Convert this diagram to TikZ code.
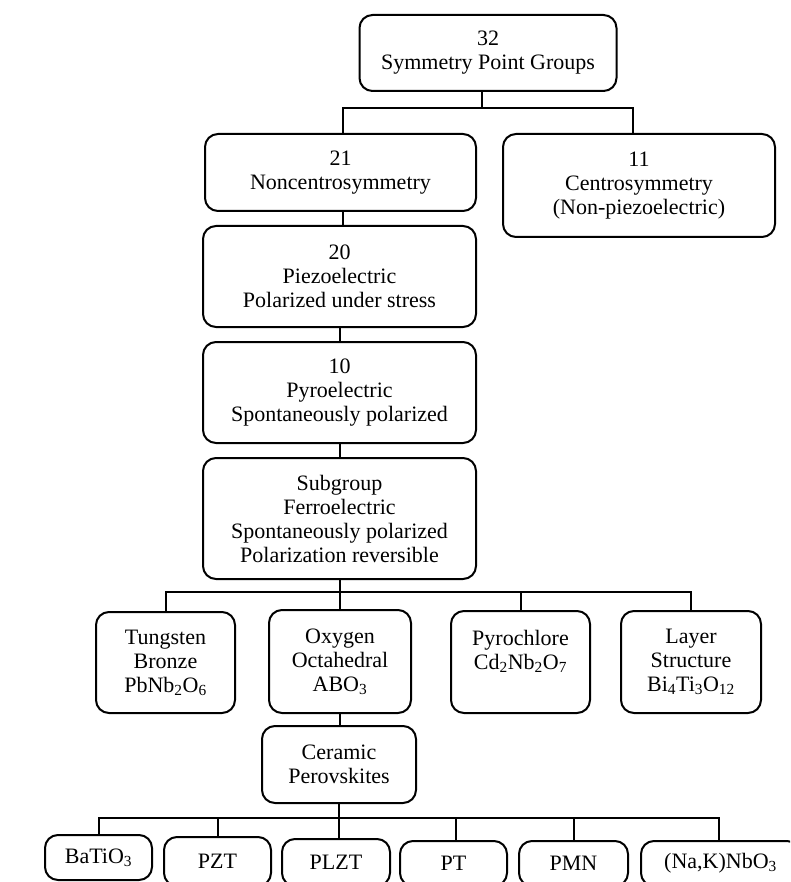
\documentclass[tikz,border=0pt]{standalone}
\usepackage{fontspec}
\setmainfont{Liberation Serif}
\begin{document}
\begin{tikzpicture}[x=1pt,y=-1pt,
  box/.style={draw, line width=2pt, rounded corners=13pt, align=center, inner sep=0pt,
              font=\fontsize{22}{24}\selectfont},
  conn/.style={line width=2pt}]
\useasboundingbox (0,0) rectangle (790,882);
\clip (0,0) rectangle (790,882);

% nodes
\node[box, minimum width=257pt, minimum height=76pt] (top) at (488,53) {32\\Symmetry Point Groups};
\node[box, minimum width=271pt, minimum height=77pt] (n21) at (340.5,172.5) {21\\Noncentrosymmetry};
\node[box, minimum width=272pt, minimum height=103pt] (n11) at (639,185.5) {11\\Centrosymmetry\\(Non-piezoelectric)};
\node[box, minimum width=273pt, minimum height=101pt] (n20) at (339.5,276.5) {20\\Piezoelectric\\Polarized under stress};
\node[box, minimum width=273pt, minimum height=101pt] (n10) at (339.5,392.5) {10\\Pyroelectric\\Spontaneously polarized};
\node[box, minimum width=273pt, minimum height=121pt] (sub) at (339.5,518.5) {Subgroup\\Ferroelectric\\Spontaneously polarized\\Polarization reversible};

\node[box, minimum width=139pt, minimum height=101pt] (tung) at (165.5,662.5) {Tungsten\\Bronze\\PbNb\textsubscript{2}O\textsubscript{6}};
\node[box, minimum width=142pt, minimum height=103pt] (oxy) at (340,661.5) {Oxygen\\Octahedral\\ABO\textsubscript{3}};
\node[box, minimum width=139pt, minimum height=102pt, text depth=0pt] (pyro) at (520.5,662) {Pyrochlore\\Cd\textsubscript{2}Nb\textsubscript{2}O\textsubscript{7}\\\strut};
\node[box, minimum width=140pt, minimum height=102pt] (layer) at (691,662) {Layer\\Structure\\Bi\textsubscript{4}Ti\textsubscript{3}O\textsubscript{12}};

\node[box, minimum width=154pt, minimum height=77pt] (cer) at (339,764.5) {Ceramic\\Perovskites};

\node[box, minimum width=107pt, minimum height=45pt] (bt) at (98.5,857.5) {BaTiO\textsubscript{3}};
\node[box, minimum width=107pt, minimum height=49pt] (pzt) at (217.5,861.5) {PZT};
\node[box, minimum width=108pt, minimum height=47pt] (plzt) at (336,862.5) {PLZT};
\node[box, minimum width=107pt, minimum height=45pt] (pt) at (453.5,863.5) {PT};
\node[box, minimum width=109pt, minimum height=45pt] (pmn) at (573.5,863.5) {PMN};
\node[box, minimum width=159pt, minimum height=45pt] (nak) at (720.5,863.5) {(Na,K)NbO\textsubscript{3}};

% connectors
\coordinate (j1) at (482,108.5);
\draw[conn] ([xshift=-6pt]top.south) -- (j1);
\draw[conn] ([xshift=2.5pt]n21.north) |- (j1) -| ([xshift=-6pt]n11.north);

\draw[conn] ([xshift=2.5pt]n21.south) -- ([xshift=2.5pt]n21.south |- n20.north);
\draw[conn] (n20.south) -- (n10.north);
\draw[conn] (n10.south) -- (sub.north);

\coordinate (j2) at (340,592);
\draw[conn] (sub.south) -- (sub.south |- j2);
\draw[conn] (tung.north) |- (j2) -| (layer.north);
\draw[conn] (j2) -- (oxy.north);
\draw[conn] (pyro.north) -- (pyro.north |- j2);

\draw[conn] (oxy.south) -- (oxy.south |- cer.north);

\coordinate (j3) at (339,817.5);
\draw[conn] (cer.south) -- (j3);
\draw[conn] (bt.north) |- (j3) -| ([xshift=-1.5pt]nak.north);
\draw[conn] (pzt.north) -- (pzt.north |- j3);
\draw[conn] ([xshift=3pt]plzt.north) -- ([xshift=3pt]plzt.north |- j3);
\draw[conn] ([xshift=2.5pt]pt.north) -- ([xshift=2.5pt]pt.north |- j3);
\draw[conn] (pmn.north) -- (pmn.north |- j3);
\end{tikzpicture}
\end{document}
